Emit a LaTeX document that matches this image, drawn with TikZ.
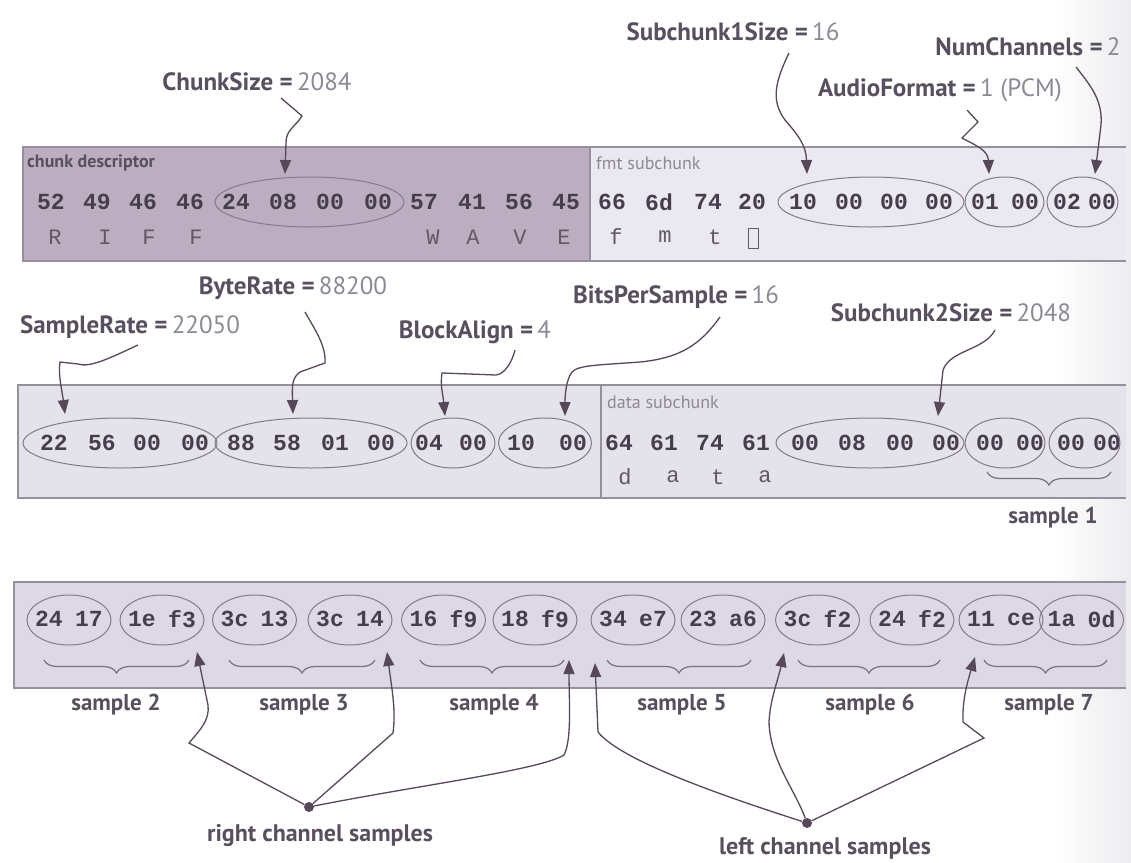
\documentclass[tikz,border=0pt]{standalone}
\usepackage{fontspec}
\setmainfont{PT Sans}
\newfontfamily\monof{Liberation Mono}
\usetikzlibrary{shapes.geometric,arrows.meta,decorations.pathreplacing}
\definecolor{mauve}{RGB}{188,174,192}
\definecolor{lavA}{RGB}{234,232,240}
\definecolor{lavB}{RGB}{228,226,234}
\definecolor{lavC}{RGB}{220,217,229}
\definecolor{edgec}{RGB}{150,144,158}
\definecolor{hexc}{RGB}{70,62,76}
\definecolor{ascc}{RGB}{98,88,100}
\definecolor{labc}{RGB}{88,80,94}
\definecolor{numc}{RGB}{142,136,148}
\definecolor{arrc}{RGB}{86,72,88}
\definecolor{ovc}{RGB}{132,122,140}
\definecolor{brcc}{RGB}{120,112,126}
\definecolor{scan}{RGB}{236,236,239}
\newcommand\lbl[2]{\textcolor{labc}{\bfseries #1 =}\,\textcolor{numc}{#2}}
\begin{document}
\begin{tikzpicture}[x=1pt,y=-1pt,
  hex/.style={font=\monof\bfseries\fontsize{23}{23}\selectfont, text=hexc, inner sep=0},
  asc/.style={font=\monof\fontsize{22}{22}\selectfont, text=ascc, inner sep=0},
  oval/.style={ellipse, draw=ovc, line width=1pt, inner sep=0, minimum height=50pt},
  lab/.style={font=\fontsize{25}{25}\selectfont, inner sep=0},
  smp/.style={font=\bfseries\fontsize{23}{23}\selectfont, text=labc, inner sep=0},
  sect/.style={font=\fontsize{18}{18}\selectfont, inner sep=0, anchor=west},
  arr/.style={draw=arrc, line width=1.3pt, -{Triangle[length=14pt,width=11pt]}},
  brc/.style={draw=brcc, line width=1.2pt, decorate, decoration={brace,mirror,amplitude=13pt}},
  dotn/.style={circle, fill=arrc, inner sep=0, minimum size=10pt}
]
\useasboundingbox (0,0) rectangle (1131,862);
\fill[white] (0,0) rectangle (1131,862);
\shade[left color=white, right color=scan] (1050,0) rectangle (1131,862);

% ---------- row 1 ----------
\fill[mauve] (23,147) rectangle (590,261);
\fill[lavA] (590,147) rectangle (1126,261);
\draw[edgec, line width=2pt] (1126,147) -- (23,147) -- (23,261) -- (1126,261);
\draw[edgec, line width=1.5pt] (590,147) -- (590,261);
\node[sect, text=labc, font=\bfseries\fontsize{18}{18}\selectfont] (cdesc) at (27,163) {chunk descriptor};
\node[sect, text=numc] (fmtsub) at (596,163) {fmt subchunk};

\foreach \x/\t [count=\i] in {51/52,97/49,143/46,190/46,236/24,283/08,330/00,378/00,424/57,472/41,519/56,566/45,
  612/66,659/6d,708/74,752/20,803/10,849/00,894/00,939/00,985/01,1025/00,1067/02,1102/00}
  \node[hex] (ra\i) at (\x,202) {\t};
\foreach \x/\t [count=\i] in {55/R,105/I,149/F,196/F,433/W,473/A,520/V,564/E,616/f,665/m,715/t}
  \node[asc] (rs\i) at (\x,237) {\t};
\node[draw=ascc, line width=1pt, minimum width=10pt, minimum height=20pt, inner sep=0] (rsp) at (753,238) {};

\node[oval, minimum width=189pt] (oChunk) at (309.5,202) {};
\node[oval, minimum width=186pt] (oSub1) at (871,202) {};
\node[oval, minimum width=79pt] (oAud) at (1004.5,202) {};
\node[oval, minimum width=71pt] (oNum) at (1082.5,202) {};

\node[lab] (lChunk) at (257,82) {\lbl{ChunkSize}{2084}};
\node[lab] (lSub1) at (733,32) {\lbl{Subchunk1Size}{16}};
\node[lab] (lNum) at (1028,47) {\lbl{NumChannels}{2}};
\node[lab] (lAud) at (940,90) {\lbl{AudioFormat}{1 (PCM)}};

\coordinate (sChunk) at (281,98);
\coordinate (sSub1) at (789,53);
\coordinate (sAud) at (967,110);
\coordinate (sNum) at (1076,67);
\coordinate (tChunk) at (285,174);
\draw[arr] (sChunk) -- (302,116) .. controls (296,126) and (286,130) .. (286,142) -- (tChunk);
\draw[arr] (sSub1) .. controls (776,80) and (770,100) .. (785,120) .. controls (798,135) and (806,145) .. (807,174);
\draw[arr] (sAud) -- (978,122) -- (962,138) .. controls (975,145) and (988,150) .. (989,174);
\draw[arr] (sNum) .. controls (1090,85) and (1103,100) .. (1101,125) -- (1095,174);

% ---------- row 2 ----------
\fill[lavB] (18,385) rectangle (1126,498);
\draw[edgec, line width=2pt] (1126,385) -- (18,385) -- (18,498) -- (1126,498);
\draw[edgec, line width=1.5pt] (601,385) -- (601,498);
\node[sect, text=numc] (datasub) at (607,402) {data subchunk};

\foreach \x/\t [count=\i] in {54/22,102/56,147/00,195/00,241/88,287/58,335/01,381/00,429/04,473/00,521/10,573/00,
  619/64,664/61,710/74,756/61,805/00,852/08,900/00,946/00,990/00,1030/00,1071/00,1107/00}
  \node[hex] (rb\i) at (\x,443) {\t};
\foreach \x/\t [count=\i] in {625/d,673/a,718/t,765/a}
  \node[asc] (rd\i) at (\x,477) {\t};

\node[oval, minimum width=194pt] (oSR) at (120,443) {};
\node[oval, minimum width=192pt] (oBR) at (311,443) {};
\node[oval, minimum width=84pt] (oBA) at (453,443) {};
\node[oval, minimum width=93pt] (oBPS) at (545,443) {};
\node[oval, minimum width=188pt] (oSub2) at (870,443) {};
\node[oval, minimum width=80pt] (oS1a) at (1005,443) {};
\node[oval, minimum width=71pt] (oS1b) at (1084.5,443) {};
\draw[brc] (987,472) -- (1111,472);
\node[smp] (smp1) at (1053,518) {sample 1};

\node[lab] (lSR) at (130,327) {\lbl{SampleRate}{22050}};
\node[lab] (lBR) at (293,288) {\lbl{ByteRate}{88200}};
\node[lab] (lBA) at (475,332) {\lbl{BlockAlign}{4}};
\node[lab] (lBPS) at (676,297) {\lbl{BitsPerSample}{16}};
\node[lab] (lSub2) at (951,313) {\lbl{Subchunk2Size}{2048}};

\coordinate (sSR) at (138,345);
\coordinate (sBR) at (305,312);
\coordinate (sBA) at (515,350);
\coordinate (sBPS) at (720,317);
\coordinate (sSub2) at (995,330);
\draw[arr] (sSR) .. controls (110,358) and (90,368) .. (78,364) -- (60,362) .. controls (58,375) and (62,390) .. (65,414);
\draw[arr] (sBR) .. controls (315,330) and (326,345) .. (325,363) -- (300,372) .. controls (292,378) and (292,385) .. (293,414);
\draw[arr] (sBA) .. controls (512,362) and (505,374) .. (496,375) -- (442,373) .. controls (440,385) and (443,395) .. (445,416);
\draw[arr] (sBPS) .. controls (700,345) and (680,358) .. (640,362) .. controls (600,365) and (578,365) .. (572,372) .. controls (566,380) and (565,395) .. (565,416);
\draw[arr] (sSub2) .. controls (985,350) and (950,350) .. (943,370) -- (938,416);

% ---------- row 3 ----------
\fill[lavC] (14,582) rectangle (1126,688);
\draw[edgec, line width=2pt] (1126,582) -- (14,582) -- (14,688) -- (1126,688);

\foreach \c/\a/\b [count=\i] in {69/24/17,162/1e/f3,254.5/3c/13,350/3c/14,443.5/16/f9,535/18/f9,
  633/34/e7,723/23/a6,817.5/3c/f2,912/24/f2,1001/11/ce,1081.5/1a/0d}
{
  \node[oval, minimum width=84pt] (oc\i) at (\c,620) {};
  \node[hex] (ha\i) at (\c-20,619) {\a};
  \node[hex] (hb\i) at (\c+20,619) {\b};
}

\foreach \xa/\xb/\xm/\n in {44/189/116/2,229/375/304/3,420/564/494/4,607/751/682/5,798/940/870/6,984/1107/1049/7}
{
  \draw[brc] (\xa,660) -- (\xb,660);
  \node[smp] (smp\n) at (\xm,705) {sample \n};
}

\node[dotn] (rdot) at (309,807) {};
\node[dotn] (ldot) at (807,823) {};
\node[smp, font=\bfseries\fontsize{24}{24}\selectfont] (rlab) at (320,835) {right channel samples};
\node[smp, font=\bfseries\fontsize{24}{24}\selectfont] (llab) at (825,848) {left channel samples};

\draw[arr] (rdot) -- (189,743) .. controls (200,730) and (210,720) .. (208,705) -- (197,652);
\draw[arr] (rdot) -- (393,733) .. controls (396,710) and (392,690) .. (387,652);
\draw[arr] (rdot) .. controls (420,785) and (540,770) .. (564,755) .. controls (572,740) and (569,700) .. (569,660);
\draw[arr] (ldot) .. controls (720,795) and (620,760) .. (598,732) -- (595,663);
\draw[arr] (ldot) .. controls (795,790) and (770,760) .. (769,722) .. controls (770,700) and (778,680) .. (784,653);
\draw[arr] (ldot) -- (984,738) -- (963,722) .. controls (962,700) and (968,680) .. (975,657);
\end{tikzpicture}
\end{document}
